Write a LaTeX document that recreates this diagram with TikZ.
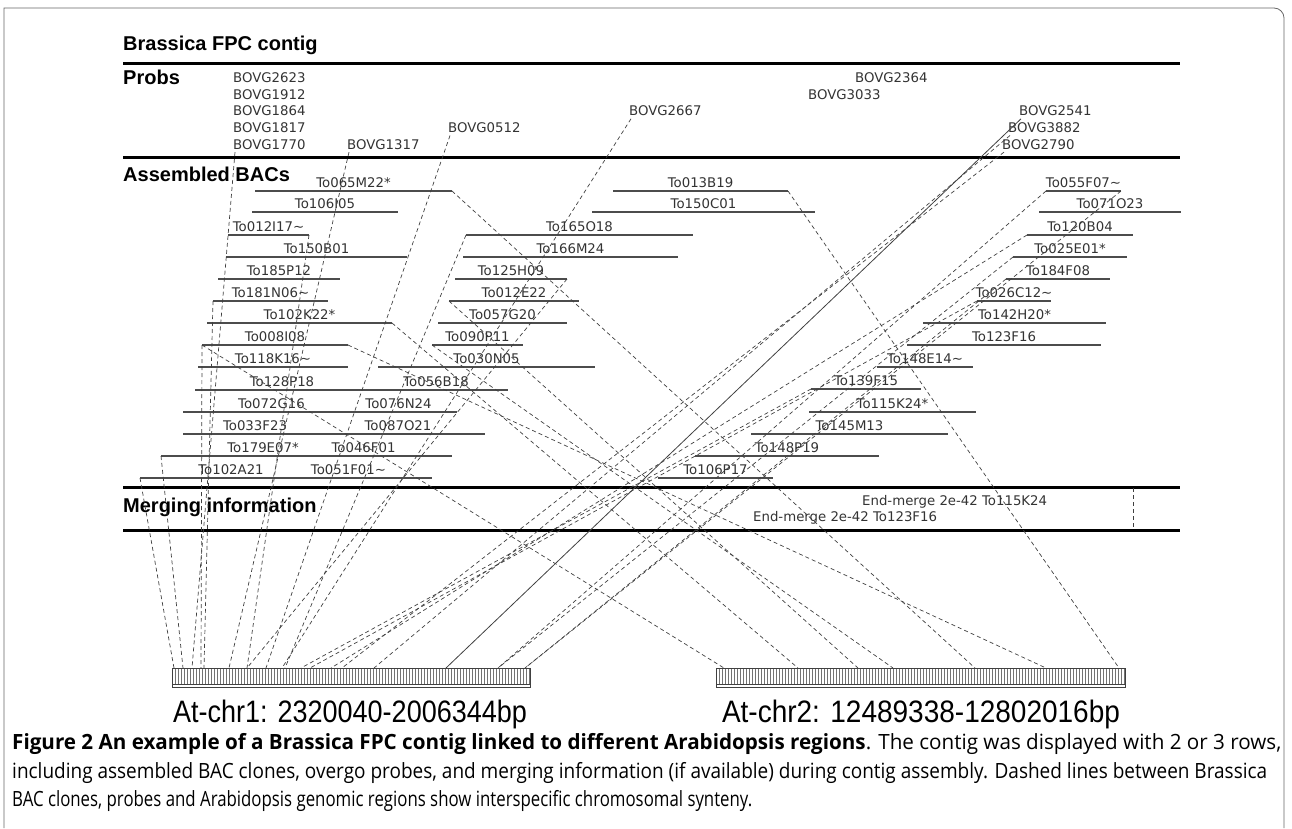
\documentclass[tikz,border=0pt]{standalone}
\usepackage{fontspec}
\setmainfont{DejaVu Sans}
\newfontfamily\dv{DejaVu Sans}
\newfontfamily\hd{Liberation Sans}
\newfontfamily\cp{Open Sans}
\newcommand\tild{\char"7E\relax}
\newcommand\bacrow[5]{%
  \coordinate (#1L) at (#2,#4);
  \coordinate (#1R) at (#3,#4);
  \draw[bacline] (#1L) -- (#1R);
  \node[baclbl] (#1) at ({(#2+#3)/2},{#4-4}) {#5};}
\newcommand\probe[4]{%
  \node[prlbl] (#1) at (#2,#3) {#4};
  \coordinate (#1p) at ({#2+2},{#3+3});}
\begin{document}
\begin{tikzpicture}[x=1pt,y=-1pt,
  bacline/.style={draw=black!70,line width=1.1pt},
  baclbl/.style={font=\dv\fontsize{13.3}{15}\selectfont,text=black!80,anchor=base,inner sep=0pt},
  prlbl/.style={font=\dv\fontsize{13.3}{15}\selectfont,text=black!80,anchor=base west,inner sep=0pt},
  hdr/.style={font=\hd\bfseries\fontsize{20}{24}\selectfont,anchor=base west,inner sep=0pt},
  rule/.style={line width=3pt,draw=black},
  link/.style={draw=black!75,line width=0.7pt,dash pattern=on 4pt off 3pt},
  solidlink/.style={draw=black!75,line width=0.8pt},
  frame/.style={draw=black!60,line width=0.8pt},
  caption/.style={font=\cp\fontsize{21}{25}\selectfont,inner sep=0pt,anchor=base west}]
\useasboundingbox (0,0) rectangle (1292,828);
% frame
\draw[frame] (4,828) -- (4,8) -- (1274,8) arc[start angle=-90,end angle=0,radius=10] -- (1284,828);
% headers and rules
\node[hdr] (title) at (123,50) {Brassica FPC contig};
\draw[rule] (123,63) -- (1180,63);
\node[hdr] (probs) at (123,84) {Probs};
\draw[rule] (123,157.5) -- (1180,157.5);
\node[hdr] (bacs) at (123,181) {Assembled BACs};
\draw[rule] (123,487.5) -- (1180,487.5);
\node[hdr] (merge) at (123,512) {Merging information};
\draw[rule] (123,530) -- (1180,530);
\draw[link] (1133,488) -- (1133,529);
\node[prlbl] (em1) at (862,505.5) {End-merge 2e-42 To115K24};
\node[prlbl] (em2) at (753,521.5) {End-merge 2e-42 To123F16};
% probes
\probe{g2623}{233}{82.5}{BOVG2623}
\probe{g1912}{233}{99.2}{BOVG1912}
\probe{g1864}{233}{115.8}{BOVG1864}
\probe{g1817}{233}{132.5}{BOVG1817}
\probe{g1770}{233}{149.1}{BOVG1770}
\probe{g1317}{347}{149.1}{BOVG1317}
\probe{g0512}{448}{132.5}{BOVG0512}
\probe{g2667}{629}{115.8}{BOVG2667}
\probe{g2364}{855}{82.5}{BOVG2364}
\probe{g3033}{808}{99.2}{BOVG3033}
\probe{g2541}{1019}{115.8}{BOVG2541}
\probe{g3882}{1008}{132.5}{BOVG3882}
\probe{g2790}{1002}{149.1}{BOVG2790}
% BACs
\bacrow{a1}{255}{452}{191}{To065M22*}
\bacrow{a2}{252}{398}{212}{To106I05}
\bacrow{a3}{228}{309}{235}{To012I17\tild}
\bacrow{a4}{226}{407}{257}{To150B01}
\bacrow{a5}{218}{340}{279}{To185P12}
\bacrow{a6}{213}{328}{301}{To181N06\tild}
\bacrow{a7}{207}{392}{323}{To102K22*}
\bacrow{a8}{202}{348}{345}{To008I08}
\bacrow{a9}{198}{348}{367}{To118K16\tild}
\bacrow{a10}{195}{369}{390}{To128P18}
\bacrow{a11}{183}{360}{412}{To072G16}
\bacrow{a12}{183}{327}{434}{To033F23}
\bacrow{a13}{161}{365}{456}{To179E07*}
\bacrow{a14}{140}{322}{478}{To102A21}
\bacrow{b1}{364}{508}{390}{To056B18}
\bacrow{b2}{340}{457}{412}{To076N24}
\bacrow{b3}{311}{485}{434}{To087O21}
\bacrow{b4}{275}{452}{456}{To046F01}
\bacrow{b5}{265}{432}{478}{To051F01\tild}
\bacrow{m1}{613}{788}{191}{To013B19}
\bacrow{m2}{592}{815}{212}{To150C01}
\bacrow{m3}{466}{693}{235}{To165O18}
\bacrow{m4}{463}{678}{257}{To166M24}
\bacrow{m5}{455}{567}{279}{To125H09}
\bacrow{m6}{449}{579}{301}{To012E22}
\bacrow{m7}{438}{567}{323}{To057G20}
\bacrow{m8}{432}{523}{345}{To090P11}
\bacrow{m9}{378}{595}{367}{To030N05}
\bacrow{r1}{1046}{1121}{191}{To055F07\tild}
\bacrow{r2}{1039}{1181}{212}{To071O23}
\bacrow{r3}{1027}{1133}{235}{To120B04}
\bacrow{r4}{1013}{1127}{257}{To025E01*}
\bacrow{r5}{1006}{1110}{279}{To184F08}
\bacrow{r6}{977}{1051}{301}{To026C12\tild}
\bacrow{r7}{923}{1106}{323}{To142H20*}
\bacrow{r8}{907}{1101}{345}{To123F16}
\bacrow{r9}{877}{973}{367}{To148E14\tild}
\bacrow{r10}{811}{921}{389}{To139F15}
\bacrow{r11}{809}{976}{412}{To115K24*}
\bacrow{r12}{751}{948}{434}{To145M13}
\bacrow{r13}{695}{879}{456}{To148P19}
\bacrow{r14}{658}{773}{478}{To106P17}
% chromosome bars
\foreach \x in {174,183,192,201,204,229,247,266,282,285,301,310,331,342,374,446,498,525,724,798,858,893,975,1046,1119}
  \coordinate (p\x) at (\x,668);
\foreach \a/\b in {172/530,716/1125}{
  \fill[white] (\a,668) rectangle (\b,687);
  \pgfmathsetmacro\n{int((\b-\a)/3)}
  \foreach \i in {0,...,\n}
    \draw[black!55,line width=0.5pt] ({\a+3*\i},668) -- ({\a+3*\i},684);
  \draw[black!75,line width=0.8pt] (\a,668) rectangle (\b,687);
  \draw[black!75,line width=0.6pt] (\a,684) -- (\b,684);
}
\node[font=\hd\fontsize{31}{36}\selectfont,inner sep=0pt,anchor=base] (chr1) at (350,722) {\resizebox{354pt}{\height}{At-chr1: 2320040-2006344bp}};
\node[font=\hd\fontsize{31}{36}\selectfont,inner sep=0pt,anchor=base] (chr2) at (921,722) {\resizebox{398pt}{\height}{At-chr2: 12489338-12802016bp}};
% connectors to chr1
\draw[link] (a14L) -- (p174);
\draw[link] (a13L) -- (p183);
\draw[link] (g1770p) -- (p192);
\draw[link] (a8L) -- (p201);
\draw[link] (a6L) -- (p204);
\draw[link] (g1317p) -- (p229);
\draw[link] (a3R) -- (p247);
\draw[link] (m5R) -- (p247);
\draw[link] (g0512p) -- (p266);
\draw[link] (g2667p) -- (p282);
\draw[link] (m3L) -- (p285);
\draw[link] (r10L) -- (p301);
\draw[link] (r6L) -- (p310);
\draw[link] (r3L) -- (p331);
\draw[link] (g2790p) -- (p342);
\draw[link] (g3882p) -- (p374);
\draw[solidlink] (g2541p) -- (p446);
\draw[link] (r1L) -- (p498);
\draw[link] (r4L) -- (p498);
\draw[link] (r1R) -- (p525);
\draw[link] (r5L) -- (p525);
% connectors to chr2
\draw[link] (a8L) -- (p724);
\draw[link] (a7R) -- (p798);
\draw[link] (m6L) -- (p858);
\draw[link] (m8L) -- (p893);
\draw[link] (a1R) -- (p975);
\draw[link] (a8R) -- (p1046);
\draw[link] (m1R) -- (p1119);
% caption
\node[caption] (cap1) at (12,749) {\resizebox{1269pt}{\height}{\textbf{Figure 2 An example of a Brassica FPC contig linked to different Arabidopsis regions}. The contig was displayed with 2 or 3 rows,}};
\node[caption] (cap2) at (12,778) {\resizebox{1255pt}{\height}{including assembled BAC clones, overgo probes, and merging information (if available) during contig assembly. Dashed lines between Brassica}};
\node[caption] (cap3) at (12,806) {\resizebox{740pt}{\height}{BAC clones, probes and Arabidopsis genomic regions show interspecific chromosomal synteny.}};
\end{tikzpicture}
\end{document}
